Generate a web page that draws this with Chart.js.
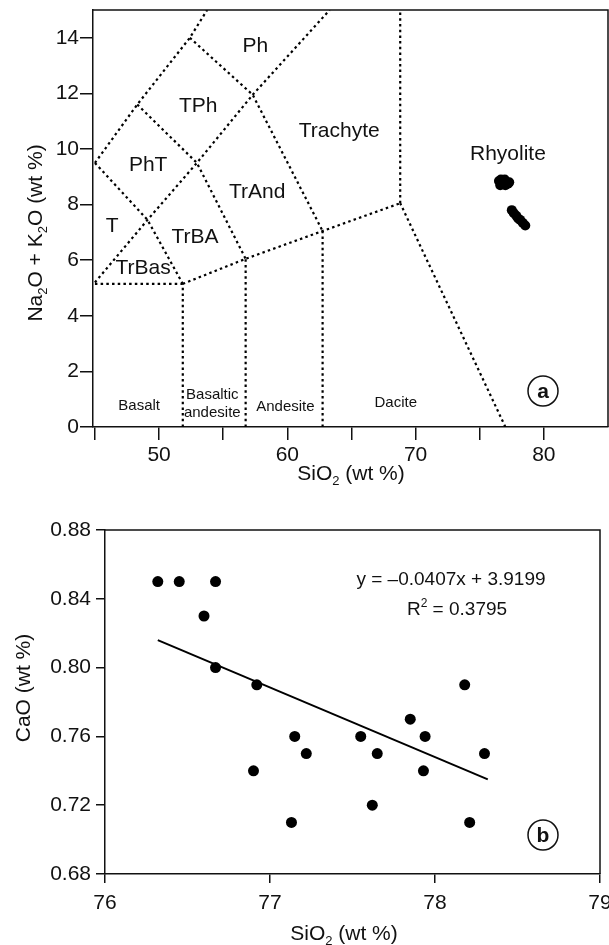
<!DOCTYPE html>
<html>
<head>
<meta charset="utf-8">
<script src="https://cdn.jsdelivr.net/npm/chart.js@4.4.1/dist/chart.umd.min.js"></script>
<style>
  body { margin: 0; background: #fff; overflow: hidden; }
  .panel { position: absolute; left: 0; width: 609px; overflow: hidden; }
</style>
</head>
<body>
<div class="panel" style="top:0; height:500px"><canvas id="tas" width="613" height="500"></canvas></div>
<div class="panel" style="top:500px; height:445px"><canvas id="cao" width="609" height="445"></canvas></div>
<script>
const FONT = '"Liberation Sans", Arial, sans-serif';

// --- panel a: TAS diagram, rhyolite samples
const tasSiO2   = [76.5, 76.65, 76.8, 76.95, 77.1, 77.3, 76.6, 77.0, 77.2, 77.5, 77.65, 77.85, 78.0, 78.15, 78.35, 78.55];
const tasAlkali = [8.85, 8.9, 8.8, 8.9, 8.75, 8.8, 8.7, 8.7, 8.75, 7.8, 7.7, 7.6, 7.5, 7.45, 7.35, 7.25];

// field boundaries (SiO2, Na2O+K2O)
const boundaries = [
  [[45, 5.15], [51.85, 5.15]],
  [[51.85, 0], [51.85, 5.15]],
  [[56.75, 0], [56.75, 6.05]],
  [[62.75, 0], [62.75, 7.05]],
  [[77, 0], [68.8, 8.05]],
  [[68.8, 8.05], [68.8, 15]],
  [[51.85, 5.15], [56.75, 6.05], [62.75, 7.05], [68.8, 8.05]],
  [[45, 9.5], [49.1, 7.45], [51.85, 5.15]],
  [[45, 5.2], [49.1, 7.45], [52.95, 9.5], [57.3, 11.95], [63.3, 15]],
  [[45, 9.5], [48.3, 11.6], [52.4, 14.0], [53.75, 15]],
  [[48.3, 11.6], [52.95, 9.5], [56.75, 6.05]],
  [[52.4, 14.0], [57.3, 11.95], [62.75, 7.05]]
];

const fieldNames = ['Ph', 'TPh', 'PhT', 'TrAnd', 'T', 'TrBA', 'TrBas', 'Trachyte', 'Rhyolite', 'Basalt', 'Basaltic', 'andesite', 'Andesite', 'Dacite'];
const fieldX = [57.5, 53.05, 49.15, 57.65, 46.35, 52.8, 48.75, 64.05, 77.2, 48.45, 54.15, 54.15, 59.85, 68.45];
const fieldY = [13.68, 11.55, 9.4, 8.45, 7.22, 6.82, 5.7, 10.65, 9.82, 0.76, 1.17, 0.52, 0.72, 0.87];
const fieldBig = [1, 1, 1, 1, 1, 1, 1, 1, 1, 0, 0, 0, 0, 0];

const tasXTicks = [50, 60, 70, 80];

// --- panel b: CaO vs SiO2
const caoSiO2 = [76.32, 76.45, 76.60, 76.67, 76.67, 76.90, 76.92, 77.13, 77.15, 77.22, 77.55, 77.62, 77.65, 77.85, 77.93, 77.94, 78.18, 78.21, 78.30];
const caoCaO  = [0.85, 0.85, 0.83, 0.85, 0.80, 0.74, 0.79, 0.71, 0.76, 0.75, 0.76, 0.72, 0.75, 0.77, 0.74, 0.76, 0.79, 0.71, 0.75];
const trendX = [76.32, 78.32];
const trendY = [0.816, 0.735];

// draws text made of [text, 0 normal | 1 sub | -1 sup] parts, centred on x
function richText(ctx, parts, x, y, size) {
  const small = Math.round(size * 0.62);
  let w = 0;
  parts.forEach(p => { ctx.font = `${p[1] ? small : size}px ${FONT}`; w += ctx.measureText(p[0]).width; });
  let cx = x - w / 2;
  ctx.textAlign = 'left';
  ctx.textBaseline = 'alphabetic';
  parts.forEach(p => {
    ctx.font = `${p[1] ? small : size}px ${FONT}`;
    const dy = p[1] === 1 ? size * 0.22 : p[1] === -1 ? -size * 0.42 : 0;
    ctx.fillText(p[0], cx, y + dy);
    cx += ctx.measureText(p[0]).width;
  });
}

const extras = {
  id: 'extras',
  afterDraw(chart, args, o) {
    const { ctx, chartArea: a, scales } = chart;
    ctx.save();
    ctx.strokeStyle = '#111';
    ctx.lineWidth = 1.5;
    ctx.beginPath();
    ctx.moveTo(a.left, a.top); ctx.lineTo(a.right, a.top); ctx.lineTo(a.right, a.bottom);
    ctx.stroke();
    ctx.fillStyle = '#111';

    (o.labels || []).forEach(l => {
      ctx.font = `${l.size}px ${FONT}`;
      ctx.textAlign = 'center';
      ctx.textBaseline = 'middle';
      ctx.fillText(l.text, scales.x.getPixelForValue(l.x), scales.y.getPixelForValue(l.y));
    });

    richText(ctx, o.xTitle, o.xTitlePos[0], o.xTitlePos[1], 21);
    ctx.save();
    ctx.translate(o.yTitlePos[0], o.yTitlePos[1]);
    ctx.rotate(-Math.PI / 2);
    richText(ctx, o.yTitle, 0, 0, 21);
    ctx.restore();

    (o.notes || []).forEach(n => richText(ctx, n.parts, n.pos[0], n.pos[1], 19));

    // circled panel letter
    const bx = a.right - o.badge[0], by = a.bottom - o.badge[1];
    ctx.beginPath();
    ctx.arc(bx, by, 15, 0, Math.PI * 2);
    ctx.lineWidth = 1.5;
    ctx.stroke();
    ctx.font = `bold 21px ${FONT}`;
    ctx.textAlign = 'center';
    ctx.textBaseline = 'middle';
    ctx.fillText(o.letter, bx, by + 1);
    ctx.restore();
  }
};

function axisFit(size, horizontal) {
  return scale => {
    if (horizontal) scale.height = size; else scale.width = size;
    scale.paddingLeft = 0; scale.paddingRight = 0;
    scale.paddingTop = 0; scale.paddingBottom = 0;
  };
}

const tasDatasets = boundaries.map(b => ({
  data: b.map(p => ({ x: p[0], y: p[1] })),
  showLine: true,
  borderColor: '#000',
  borderWidth: 2.2,
  borderDash: [2.5, 3.2],
  pointRadius: 0,
  fill: false
}));
tasDatasets.push({
  data: tasSiO2.map((v, i) => ({ x: v, y: tasAlkali[i] })),
  backgroundColor: '#000',
  borderColor: '#000',
  pointRadius: 5,
  pointBorderWidth: 0
});

new Chart(document.getElementById('tas'), {
  type: 'scatter',
  data: { datasets: tasDatasets },
  options: {
    responsive: false,
    animation: false,
    layout: { padding: { top: 10, right: 1, left: 0, bottom: 0 } },
    scales: {
      x: {
        type: 'linear', min: 44.85, max: 85,
        afterFit: axisFit(73, true),
        ticks: {
          stepSize: 5, includeBounds: false, color: '#111', padding: 3,
          font: { family: FONT, size: 21 },
          callback: v => tasXTicks.includes(v) ? String(v) : ''
        },
        grid: {
          drawOnChartArea: false, tickLength: 13, lineWidth: 1.5,
          color: c => (c.tick && c.tick.value === 85) ? 'rgba(0,0,0,0)' : '#111'
        },
        border: { color: '#111', width: 1.5 }
      },
      y: {
        type: 'linear', min: 0, max: 15,
        afterFit: axisFit(93, false),
        ticks: { stepSize: 2, includeBounds: false, color: '#111', padding: 1, font: { family: FONT, size: 21 } },
        grid: { drawOnChartArea: false, tickLength: 13, color: '#111', lineWidth: 1.5 },
        border: { color: '#111', width: 1.5 }
      }
    },
    plugins: {
      legend: { display: false },
      tooltip: { enabled: false },
      extras: {
        labels: fieldNames.map((t, i) => ({ text: t, x: fieldX[i], y: fieldY[i], size: fieldBig[i] ? 21 : 15 })),
        xTitle: [['SiO', 0], ['2', 1], [' (wt %)', 0]],
        xTitlePos: [351, 480],
        yTitle: [['Na', 0], ['2', 1], ['O + K', 0], ['2', 1], ['O (wt %)', 0]],
        yTitlePos: [42, 233],
        badge: [65, 36],
        letter: 'a'
      }
    }
  },
  plugins: [extras]
});

new Chart(document.getElementById('cao'), {
  type: 'scatter',
  data: {
    datasets: [
      {
        data: trendX.map((v, i) => ({ x: v, y: trendY[i] })),
        showLine: true, borderColor: '#000', borderWidth: 2, pointRadius: 0
      },
      {
        data: caoSiO2.map((v, i) => ({ x: v, y: caoCaO[i] })),
        backgroundColor: '#000', borderColor: '#000', pointRadius: 5.5, pointBorderWidth: 0
      }
    ]
  },
  options: {
    responsive: false,
    animation: false,
    layout: { padding: { top: 30, right: 9, left: 0, bottom: 0 } },
    scales: {
      x: {
        type: 'linear', min: 76, max: 79,
        afterFit: axisFit(71, true),
        ticks: { stepSize: 1, color: '#111', padding: 8, font: { family: FONT, size: 21 } },
        grid: { drawOnChartArea: false, tickLength: 9, color: '#111', lineWidth: 1.5 },
        border: { color: '#111', width: 1.5 }
      },
      y: {
        type: 'linear', min: 0.68, max: 0.88,
        afterFit: axisFit(105, false),
        ticks: {
          stepSize: 0.04, color: '#111', padding: 5,
          font: { family: FONT, size: 21 },
          callback: v => v.toFixed(2)
        },
        grid: { drawOnChartArea: false, tickLength: 9, color: '#111', lineWidth: 1.5 },
        border: { color: '#111', width: 1.5 }
      }
    },
    plugins: {
      legend: { display: false },
      tooltip: { enabled: false },
      extras: {
        xTitle: [['SiO', 0], ['2', 1], [' (wt %)', 0]],
        xTitlePos: [344, 440],
        yTitle: [['CaO (wt %)', 0]],
        yTitlePos: [30, 188],
        notes: [
          { parts: [['y = \u20130.0407x + 3.9199', 0]], pos: [451, 85] },
          { parts: [['R', 0], ['2', -1], [' = 0.3795', 0]], pos: [457, 115] }
        ],
        badge: [57, 39],
        letter: 'b'
      }
    }
  },
  plugins: [extras]
});
</script>
</body>
</html>
